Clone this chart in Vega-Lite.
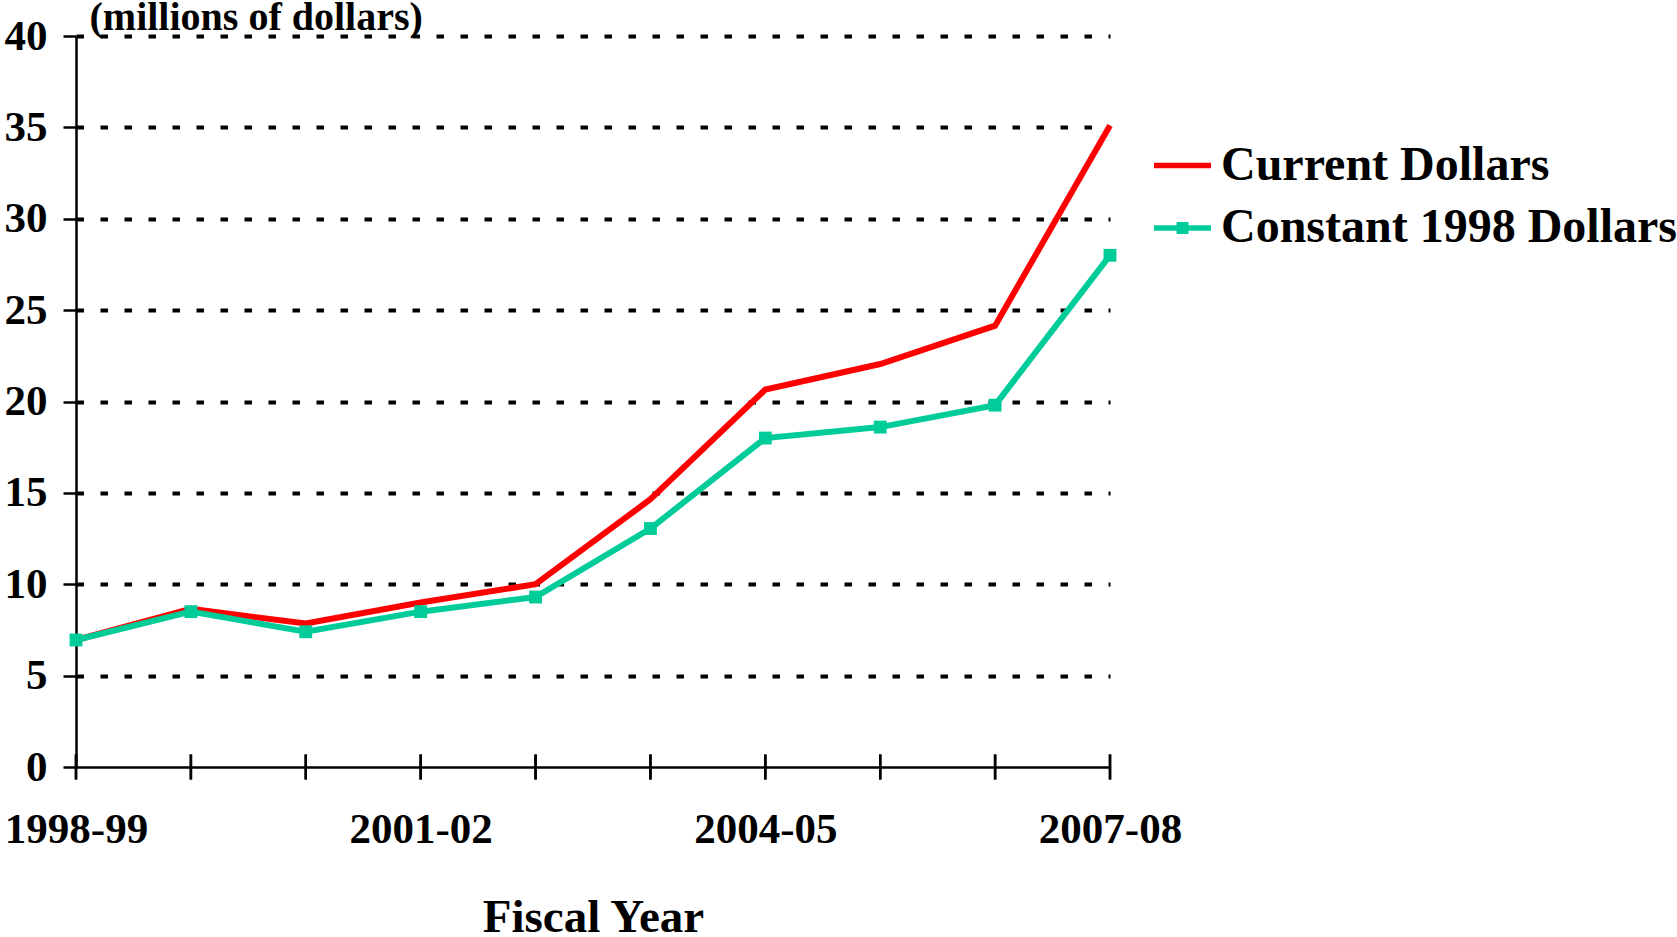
{
  "$schema": "https://vega.github.io/schema/vega-lite/v6.json",
  "width": 1034,
  "height": 731,
  "autosize": "none",
  "padding": {"left": 76, "top": 36, "right": 567, "bottom": 170},
  "background": "white",
  "config": {"view": {"stroke": null}, "font": "Liberation Serif"},
  "data": {
    "values": [
      {"year": "1998-99", "series": "Current Dollars", "value": 6.95},
      {"year": "1999-00", "series": "Current Dollars", "value": 8.65},
      {"year": "2000-01", "series": "Current Dollars", "value": 7.85},
      {"year": "2001-02", "series": "Current Dollars", "value": 9.0},
      {"year": "2002-03", "series": "Current Dollars", "value": 10.0},
      {"year": "2003-04", "series": "Current Dollars", "value": 14.65},
      {"year": "2004-05", "series": "Current Dollars", "value": 20.65},
      {"year": "2005-06", "series": "Current Dollars", "value": 22.05},
      {"year": "2006-07", "series": "Current Dollars", "value": 24.15},
      {"year": "2007-08", "series": "Current Dollars", "value": 35.1},
      {"year": "1998-99", "series": "Constant 1998 Dollars", "value": 6.95},
      {"year": "1999-00", "series": "Constant 1998 Dollars", "value": 8.5},
      {"year": "2000-01", "series": "Constant 1998 Dollars", "value": 7.4},
      {"year": "2001-02", "series": "Constant 1998 Dollars", "value": 8.5},
      {"year": "2002-03", "series": "Constant 1998 Dollars", "value": 9.3},
      {"year": "2003-04", "series": "Constant 1998 Dollars", "value": 13.05},
      {"year": "2004-05", "series": "Constant 1998 Dollars", "value": 18.0},
      {"year": "2005-06", "series": "Constant 1998 Dollars", "value": 18.6},
      {"year": "2006-07", "series": "Constant 1998 Dollars", "value": 19.8},
      {"year": "2007-08", "series": "Constant 1998 Dollars", "value": 28.0}
    ]
  },
  "encoding": {
    "x": {
      "field": "year",
      "type": "ordinal",
      "scale": {"type": "point", "padding": 0},
      "axis": {
        "title": "Fiscal Year",
        "titleFont": "Liberation Serif",
        "titleFontSize": 47,
        "titleFontWeight": "bold",
        "titleColor": "black",
        "titleBaseline": "alphabetic",
        "titleY": 164,
        "labelAngle": 0,
        "labelFont": "Liberation Serif",
        "labelFontSize": 43,
        "labelFontWeight": "bold",
        "labelColor": "black",
        "labelBaseline": "alphabetic",
        "labelPadding": 75,
        "labelOverlap": false,
        "labelExpr": "indexof(['1998-99','2001-02','2004-05','2007-08'], datum.value) >= 0 ? datum.value : ''",
        "ticks": false,
        "tickSize": 0,
        "domainColor": "black",
        "domainWidth": 2.5,
        "grid": false
      }
    },
    "y": {
      "field": "value",
      "type": "quantitative",
      "scale": {"domain": [0, 40], "nice": false},
      "axis": {
        "title": "(millions of dollars)",
        "titleFont": "Liberation Serif",
        "titleFontSize": 40,
        "titleFontWeight": "bold",
        "titleColor": "black",
        "titleAngle": 0,
        "titleAlign": "left",
        "titleBaseline": "alphabetic",
        "titleX": 13,
        "titleY": -7,
        "values": [0, 5, 10, 15, 20, 25, 30, 35, 40],
        "labelFont": "Liberation Serif",
        "labelFontSize": 43,
        "labelFontWeight": "bold",
        "labelColor": "black",
        "labelPadding": 16,
        "tickSize": 13,
        "tickColor": "black",
        "tickWidth": 2.5,
        "domainColor": "black",
        "domainWidth": 2.5,
        "grid": true,
        "gridColor": "black",
        "gridWidth": 4,
        "gridDash": [7.5, 16.5],
        "gridDashOffset": 0,
        "gridOpacity": {"condition": {"test": "datum.value === 0", "value": 0}, "value": 1}
      }
    }
  },
  "layer": [
    {
      "transform": [{"filter": "datum.series === 'Current Dollars'"}],
      "mark": {"type": "line", "strokeWidth": 6, "strokeJoin": "miter", "color": "#ff0000"}
    },
    {
      "transform": [{"filter": "datum.series === 'Constant 1998 Dollars'"}],
      "mark": {"type": "line", "strokeWidth": 6, "strokeJoin": "miter", "color": "#00cc99"}
    },
    {
      "transform": [{"filter": "datum.series === 'Constant 1998 Dollars'"}],
      "mark": {"type": "point", "shape": "square", "filled": true, "size": 165, "color": "#00cc99", "opacity": 1}
    },
    {
      "transform": [{"filter": "false"}],
      "mark": {"type": "point", "filled": true, "opacity": 1},
      "encoding": {
        "color": {
          "field": "series",
          "type": "nominal",
          "scale": {"domain": ["Current Dollars", "Constant 1998 Dollars"], "range": ["#ff0000", "#00cc99"]},
          "legend": {
            "title": null, "orient": "none", "legendX": 1078, "legendY": 101,
            "labelFont": "Liberation Serif", "labelFontSize": 48, "labelFontWeight": "bold", "labelColor": "black",
            "symbolSize": 3249, "labelOffset": 10, "rowPadding": 9.5, "symbolOpacity": 1, "padding": 0, "labelLimit": 600,
            "symbolStrokeWidth": 0
          }
        },
        "shape": {
          "field": "series",
          "type": "nominal",
          "scale": {
            "domain": ["Current Dollars", "Constant 1998 Dollars"],
            "range": ["M-1,-0.1H1V0.1H-1Z", "M-1,-0.1H1V0.1H-1ZM-0.21,-0.21H0.21V0.21H-0.21Z"]
          },
          "legend": {
            "title": null, "orient": "none", "legendX": 1078, "legendY": 101,
            "labelFont": "Liberation Serif", "labelFontSize": 48, "labelFontWeight": "bold", "labelColor": "black",
            "symbolSize": 3249, "labelOffset": 10, "rowPadding": 9.5, "symbolOpacity": 1, "padding": 0, "labelLimit": 600,
            "symbolStrokeWidth": 0
          }
        }
      }
    },
    {
      "mark": {"type": "tick", "orient": "vertical", "size": 25, "thickness": 2.5, "color": "black", "opacity": 1},
      "encoding": {
        "y": {"datum": 0, "type": "quantitative"}
      }
    }
  ]
}
